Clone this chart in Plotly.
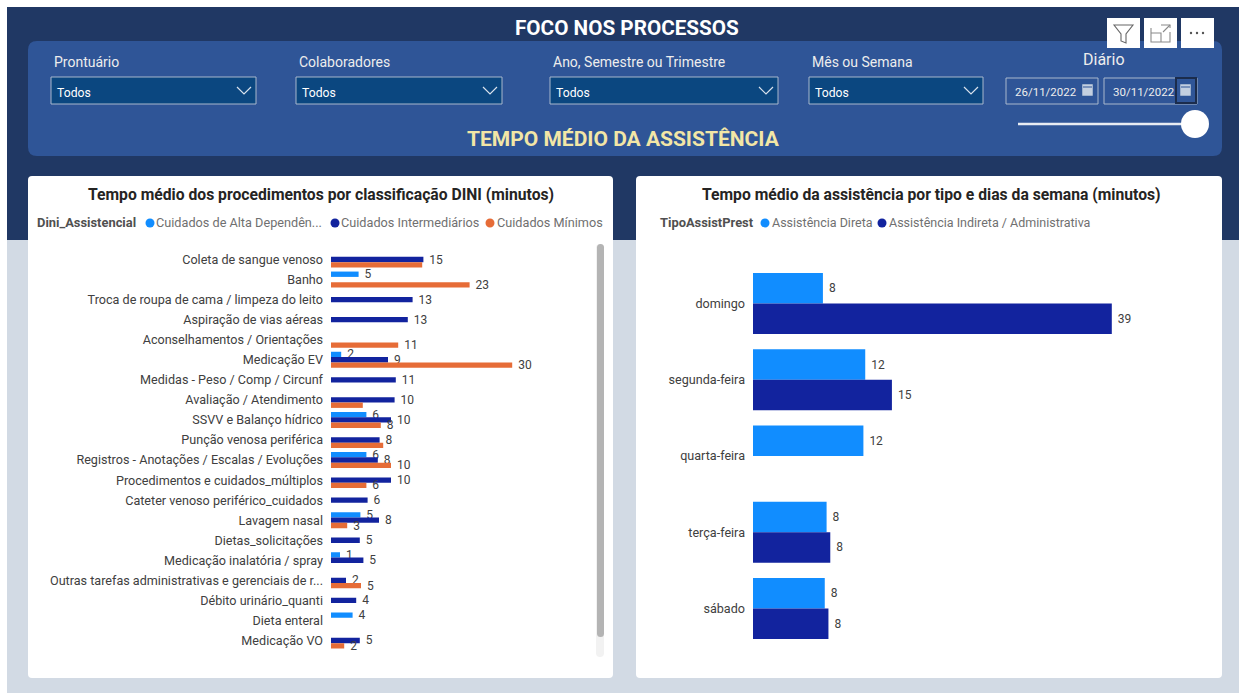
import plotly.graph_objects as go

W, H = 1239, 693

# ---- data: left chart ----
procedures = ["Coleta de sangue venoso", "Banho", "Troca de roupa de cama / limpeza do leito",
              "Aspiração de vias aéreas", "Aconselhamentos / Orientações", "Medicação EV",
              "Medidas - Peso / Comp / Circunf", "Avaliação / Atendimento", "SSVV e Balanço hídrico",
              "Punção venosa periférica", "Registros - Anotações / Escalas / Evoluções",
              "Procedimentos e cuidados_múltiplos", "Cateter venoso periférico_cuidados",
              "Lavagem nasal", "Dietas_solicitações", "Medicação inalatória / spray",
              "Outras tarefas administrativas e gerenciais de r...", "Débito urinário_quanti",
              "Dieta enteral", "Medicação VO"]
alta = [None, 4.6, None, None, None, 1.7, None, None, 5.9, None, 5.9, None, None, 4.9, None, 1.5, None, None, 3.6, None]
intermediarios = [15.4, None, 13.6, 12.8, None, 9.5, 10.8, 10.6, 10.0, 8.1, 7.8, 10.0, 6.1, 8.0, 4.8, 5.4, 2.5, 4.2, None, 4.8]
minimos = [15.2, 23.1, None, None, 11.2, 30.2, None, 5.3, 8.3, 8.7, 10.0, 5.9, None, 2.7, None, None, 5.0, None, None, 2.2]
alta_labels = ["", "5", "", "", "", "2", "", "", "6", "", "6", "", "", "5", "", "1", "", "", "4", ""]
intermediarios_labels = ["15", "", "13", "13", "", "9", "11", "10", "10", "8", "8", "10", "6", "8", "5", "5", "2", "4", "", "5"]
minimos_labels = ["", "23", "", "", "11", "30", "", "", "8", "", "10", "6", "", "3", "", "", "5", "", "", "2"]

# ---- data: right chart ----
weekdays = ["domingo", "segunda-feira", "quarta-feira", "terça-feira", "sábado"]
direta = [7.6, 12.2, 12.0, 8.0, 7.8]
indireta = [39.0, 15.1, None, 8.4, 8.2]
direta_labels = ["8", "12", "12", "8", "8"]
indireta_labels = ["39", "15", "", "8", "8"]

filter_names = ["Prontuário", "Colaboradores", "Ano, Semestre ou Trimestre", "Mês ou Semana"]
filter_boxes = [(51, 256), (296, 502), (550, 778), (809, 983)]
date_values = ["26/11/2022", "30/11/2022"]

LIGHT, DARK, ORANGE = "#118DFF", "#12239E", "#E66C37"
FONT = "Roboto"
shapes, notes = [], []


def px(x):
    return x / W


def py(y):
    return 1 - y / H


def rect(x0, y0, x1, y1, fill, line=None, lw=1):
    shapes.append(dict(type="rect", xref="paper", yref="paper", x0=px(x0), x1=px(x1), y0=py(y0), y1=py(y1),
                       fillcolor=fill, line=dict(color=line or fill, width=lw if line else 0), layer="below"))


def rrect(x0, y0, x1, y1, r, fill):
    p = (f"M{px(x0 + r)},{py(y0)} L{px(x1 - r)},{py(y0)} Q{px(x1)},{py(y0)} {px(x1)},{py(y0 + r)} "
         f"L{px(x1)},{py(y1 - r)} Q{px(x1)},{py(y1)} {px(x1 - r)},{py(y1)} L{px(x0 + r)},{py(y1)} "
         f"Q{px(x0)},{py(y1)} {px(x0)},{py(y1 - r)} L{px(x0)},{py(y0 + r)} Q{px(x0)},{py(y0)} {px(x0 + r)},{py(y0)} Z")
    shapes.append(dict(type="path", xref="paper", yref="paper", path=p, fillcolor=fill, line=dict(width=0), layer="below"))


def poly(points, color, lw=1.2, close=False, fill=None):
    p = "M" + " L".join(f"{px(x)},{py(y)}" for x, y in points) + (" Z" if close else "")
    shapes.append(dict(type="path", xref="paper", yref="paper", path=p, fillcolor=fill or "rgba(0,0,0,0)",
                       line=dict(color=color, width=lw), layer="above"))


def circle(cx, cy, r, fill):
    shapes.append(dict(type="circle", xref="paper", yref="paper", x0=px(cx - r), x1=px(cx + r), y0=py(cy + r), y1=py(cy - r),
                       fillcolor=fill, line=dict(width=0), layer="above"))


def text(x, y, s, size=12, color="#FFFFFF", bold=False, anchor="left"):
    if anchor == "left":
        x -= 2
    notes.append(dict(xref="paper", yref="paper", x=px(x), y=py(y), text=f"<b>{s}</b>" if bold else s, showarrow=False,
                      xanchor=anchor, yanchor="middle", align=anchor, font=dict(family=FONT, size=size, color=color)))


# page chrome
rect(7, 240, W, H, "#D2DAE4")
rect(7, 7, W, 240, "#203864")
rrect(28, 41, 1222, 156, 9, "#2F5597")
rrect(28, 176, 613, 678, 4, "#FFFFFF")
rrect(636, 176, 1222, 678, 4, "#FFFFFF")

text(627, 28, "FOCO NOS PROCESSOS", 20.7, "#FFFFFF", True, "center")
text(623, 139, "TEMPO MÉDIO DA ASSISTÊNCIA", 21, "#F2E6A6", True, "center")

# slicers
for name, (x0, x1) in zip(filter_names, filter_boxes):
    text(x0 + 3, 62.5, name, 14, "#EDEDED")
    rect(x0, 77, x1, 104, "#0B4780", "#A9B8CC", 1)
    text(x0 + 6, 92.5, "Todos", 12.2, "#FFFFFF")
    poly([(x1 - 19, 87), (x1 - 12, 94), (x1 - 5, 87)], "#D9E2EC", 1.2)
text(1104, 60, "Diário", 16, "#EDEDED", False, "center")
for (x0, x1), d in zip([(1006, 1098), (1104, 1197)], date_values):
    rect(x0, 78, x1, 104, "#2F5597", "#A9B8CC", 1)
    text(x0 + 9, 91.5, d, 11.5, "#EDEDED")
for x0 in (1082, 1180):
    rect(x0, 84, x0 + 11, 96, "#C4D0E0", "#2F5597", 0.5)
    poly([(x0 + 1, 87), (x0 + 10, 87)], "#2F5597", 1)
shapes.append(dict(type="rect", xref="paper", yref="paper", x0=px(1176), x1=px(1196), y0=py(103), y1=py(78),
                   line=dict(color="#1B2C4C", width=2), fillcolor="rgba(0,0,0,0)", layer="above"))
poly([(1018, 124), (1185, 124)], "#E8ECF2", 2.5)
circle(1195, 124, 14, "#FFFFFF")

# header icons
for x0 in (1107, 1144, 1181):
    rect(x0, 18, x0 + 33, 48, "#FFFFFF")
poly([(1114, 25), (1133, 25), (1126, 34), (1126, 43), (1121, 41), (1121, 34)], "#666666", 1.1, True)
poly([(1151, 28), (1151, 42), (1170, 42), (1170, 32)], "#8A8A8A", 1.1)
poly([(1151, 33), (1161, 33), (1161, 42)], "#8A8A8A", 1.1)
poly([(1161, 25), (1170, 25), (1170, 28)], "#8A8A8A", 1.1)
poly([(1163, 32), (1170, 25)], "#8A8A8A", 1.1)
for cx in (1191, 1197, 1203):
    circle(cx, 33, 1.2, "#555555")

# card titles and legends
text(321, 194, "Tempo médio dos procedimentos por classificação DINI (minutos)", 15.7, "#252423", True, "center")
text(931, 194, "Tempo médio da assistência por tipo e dias da semana (minutos)", 15.7, "#252423", True, "center")
text(37, 223, "Dini_Assistencial", 12.9, "#505050", True)
circle(150, 223, 4.5, LIGHT)
text(156, 223, "Cuidados de Alta Dependên...", 12.7, "#707070")
circle(335, 223, 4.5, DARK)
text(341, 223, "Cuidados Intermediários", 12.7, "#707070")
circle(490, 223, 4.5, ORANGE)
text(497, 223, "Cuidados Mínimos", 12.7, "#707070")
text(660, 223, "TipoAssistPrest", 12.9, "#505050", True)
circle(765, 223, 4.5, LIGHT)
text(772, 223, "Assistência Direta", 12.5, "#707070")
circle(882, 223, 4.5, DARK)
text(889, 223, "Assistência Indireta / Administrativa", 12.5, "#707070")

# scrollbar
rrect(596, 244, 604, 657, 4, "#F2F2F2")
rrect(597, 244, 604, 637, 3.5, "#B4B4B4")


def bars(name, xs, ys, color, labels, xa, ya, pad):
    return go.Bar(name=name, x=xs, y=ys, orientation="h", marker=dict(color=color, line=dict(width=0)),
                  text=[(pad + s) if s else "" for s in labels], textposition="outside", cliponaxis=False,
                  textfont=dict(family=FONT, size=12, color="#404040"), constraintext="none",
                  xaxis=xa, yaxis=ya, showlegend=False)


fig = go.Figure()
fig.add_trace(bars("Cuidados de Alta Dependência", alta, procedures, LIGHT, alta_labels, "x", "y", "  "))
fig.add_trace(bars("Cuidados Intermediários", intermediarios, procedures, DARK, intermediarios_labels, "x", "y", "  "))
fig.add_trace(bars("Cuidados Mínimos", minimos, procedures, ORANGE, minimos_labels, "x", "y", "  "))
fig.add_trace(bars("Assistência Direta", direta, weekdays, LIGHT, direta_labels, "x2", "y2", " "))
fig.add_trace(bars("Assistência Indireta / Administrativa", indireta, weekdays, DARK, indireta_labels, "x2", "y2", " "))

tick_font = dict(family=FONT, size=12.6, color="#404040")
axis_y = dict(autorange=False, tickfont=tick_font, ticks="", showgrid=False, zeroline=False, showline=False,
              type="category", automargin=False, ticklabelstandoff=7)
axis_x = dict(visible=False, showgrid=False, zeroline=False, automargin=False)

fig.update_layout(
    width=W, height=H, margin=dict(l=0, r=0, t=0, b=0), paper_bgcolor="#FFFFFF", plot_bgcolor="rgba(0,0,0,0)",
    barmode="group", bargap=0.2, bargroupgap=0, shapes=shapes, annotations=notes, showlegend=False,
    xaxis=dict(axis_x, domain=[px(331), px(595)], range=[0, 264 / 6.0]),
    yaxis=dict(axis_y, domain=[py(650.5), py(249.5)], range=[19.5, -0.5], categoryorder="array", categoryarray=procedures, anchor="x"),
    xaxis2=dict(axis_x, domain=[px(753), px(1210)], range=[0, 457 / 9.2]),
    yaxis2=dict(axis_y, domain=[py(646.5), py(265.5)], range=[4.5, -0.5], categoryorder="array", categoryarray=weekdays, anchor="x2"),
)

fig.write_html("out.html", config=dict(displayModeBar=False),
               post_script="document.body.style.margin='0';document.body.style.overflow='hidden';")
